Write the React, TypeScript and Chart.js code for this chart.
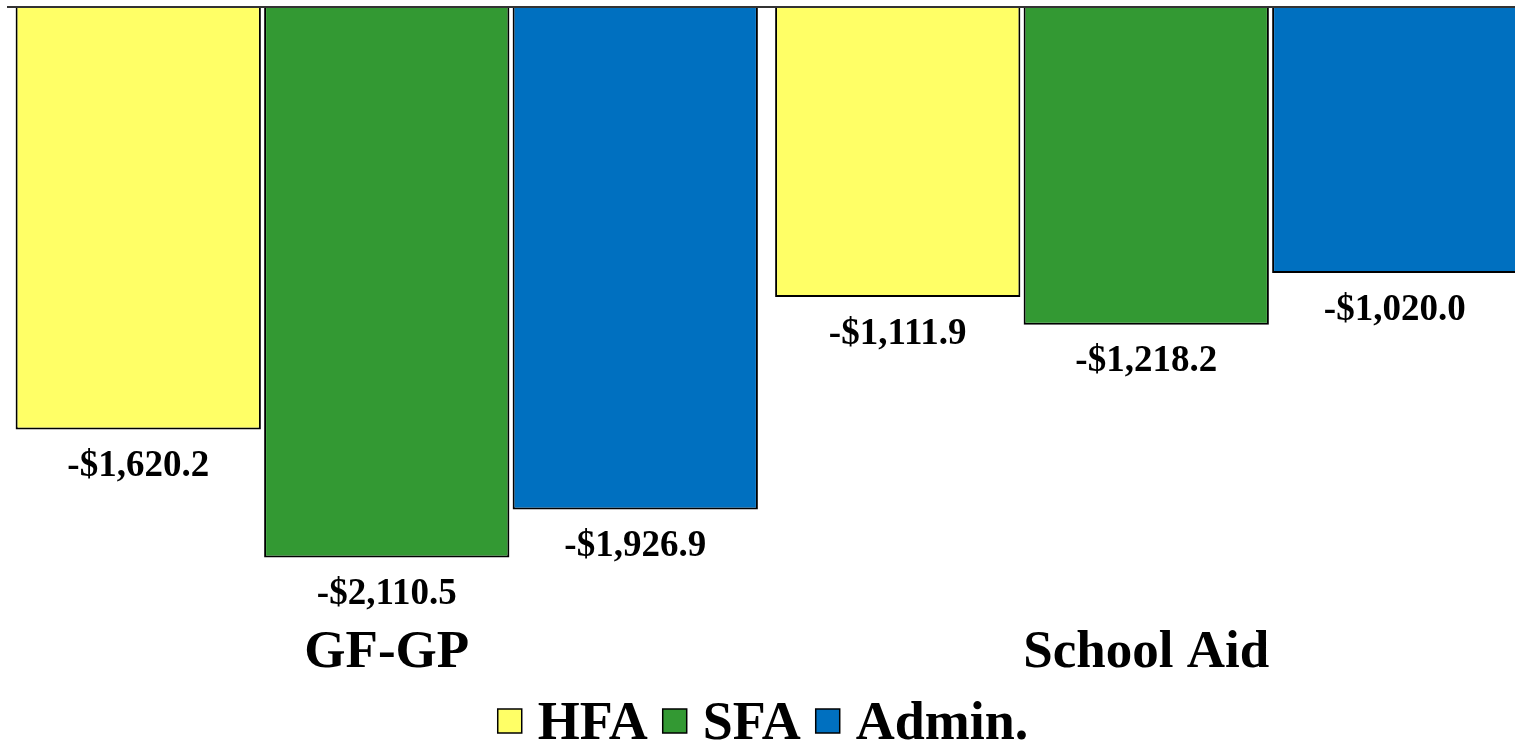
import React, { useEffect, useRef } from "react";
import { Chart, registerables } from "chart.js";

Chart.register(...registerables);

const categories = ["GF-GP", "School Aid"];
const seriesNames = ["HFA", "SFA", "Admin."];
const hfaValues = [-1620.2, -1111.9];
const sfaValues = [-2110.5, -1218.2];
const adminValues = [-1926.9, -1020.0];
const seriesColors = ["#FFFF66", "#339933", "#0070C0"];

const FONT = '"Liberation Serif", "Times New Roman", serif';

function fmt(v: number): string {
  const s = Math.abs(v).toLocaleString("en-US", {
    minimumFractionDigits: 1,
    maximumFractionDigits: 1,
  });
  return (v < 0 ? "-" : "") + "$" + s;
}

const labelPlugin = {
  id: "barLabels",
  afterDatasetsDraw(chart: any) {
    const ctx = chart.ctx;
    ctx.save();
    ctx.font = `bold 37px ${FONT}`;
    ctx.fillStyle = "#000";
    ctx.textAlign = "center";
    ctx.textBaseline = "middle";
    chart.data.datasets.forEach((ds: any, i: number) => {
      const meta = chart.getDatasetMeta(i);
      meta.data.forEach((bar: any, j: number) => {
        ctx.fillText(fmt(ds.data[j]), bar.x, bar.y + 37);
      });
    });
    ctx.restore();
  },
};

const legendPlugin = {
  id: "bottomLegend",
  afterDraw(chart: any) {
    const ctx = chart.ctx;
    ctx.save();
    ctx.font = `bold 54px ${FONT}`;
    ctx.textBaseline = "middle";
    ctx.textAlign = "left";
    const box = 24;
    const boxGap = 16;
    const itemGap = 15;
    const items = chart.data.datasets.map((ds: any) => ({
      text: ds.label as string,
      color: ds.backgroundColor as string,
      w: ctx.measureText(ds.label).width,
    }));
    const total =
      items.reduce((a: number, it: any) => a + box + boxGap + it.w, 0) +
      itemGap * (items.length - 1);
    let x = 763 - total / 2;
    const cy = 721;
    items.forEach((it: any) => {
      ctx.fillStyle = it.color;
      ctx.fillRect(x, cy - box / 2, box, box);
      ctx.lineWidth = 1.5;
      ctx.strokeStyle = "#000";
      ctx.strokeRect(x, cy - box / 2, box, box);
      ctx.fillStyle = "#000";
      ctx.fillText(it.text, x + box + boxGap, cy + 4);
      x += box + boxGap + it.w + itemGap;
    });
    ctx.restore();
  },
};

export default function App() {
  const ref = useRef<HTMLCanvasElement | null>(null);

  useEffect(() => {
    if (!ref.current) return;
    const allSeries = [hfaValues, sfaValues, adminValues];
    const chart = new Chart(ref.current, {
      type: "bar",
      data: {
        labels: categories,
        datasets: allSeries.map((vals, i) => ({
          label: seriesNames[i],
          data: vals,
          backgroundColor: seriesColors[i],
          borderColor: "#000",
          borderWidth: 2,
          borderSkipped: "start",
          barPercentage: 0.987,
          categoryPercentage: 0.9816,
        })),
      },
      options: {
        responsive: false,
        animation: false,
        devicePixelRatio: 1,
        layout: { padding: { left: 7, top: 7, right: 0, bottom: 56 } },
        plugins: {
          tooltip: { enabled: false },
          legend: { display: false },
        },
        scales: {
          x: {
            position: "bottom",
            grid: { display: false, drawTicks: false },
            border: { display: false },
            ticks: {
              color: "#000",
              font: { family: FONT, size: 53, weight: "bold", lineHeight: 1 },
              padding: 6,
              maxRotation: 0,
              autoSkip: false,
            },
          },
          y: {
            min: -2354,
            max: 0,
            grid: {
              drawTicks: false,
              lineWidth: 2,
              color: (c: any) =>
                c.tick && c.tick.value === 0 ? "#333" : "rgba(0,0,0,0)",
            },
            border: { display: false },
            ticks: { display: false },
          },
        },
      },
      plugins: [labelPlugin, legendPlugin],
    });
    return () => chart.destroy();
  }, []);

  return (
    <div
      style={{
        position: "fixed",
        left: 0,
        top: 0,
        width: 1515,
        height: 742,
        overflow: "hidden",
        background: "#fff",
      }}
    >
      <canvas ref={ref} width={1526} height={742} style={{ display: "block" }} />
    </div>
  );
}
